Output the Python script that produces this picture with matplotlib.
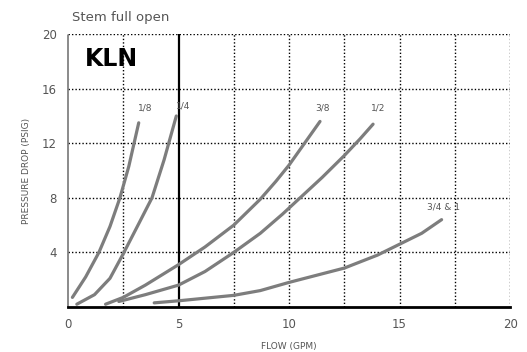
import matplotlib
matplotlib.use("Agg")
import matplotlib.pyplot as plt

# ---- data ----
x_18 = [0.2, 0.8, 1.4, 1.9, 2.35, 2.75, 3.2]
y_18 = [0.7, 2.2, 4.0, 5.9, 8.0, 10.3, 13.5]

x_14 = [0.4, 1.2, 1.9, 2.5, 3.2, 3.8, 4.35, 4.9]
y_14 = [0.2, 0.9, 2.1, 3.9, 6.1, 8.0, 10.8, 14.0]

x_38 = [1.7, 2.5, 3.5, 5.0, 6.2, 7.5, 8.7, 9.4, 10.0, 10.7, 11.4]
y_38 = [0.2, 0.7, 1.6, 3.1, 4.4, 6.0, 7.9, 9.2, 10.4, 12.0, 13.6]

x_12 = [2.3, 3.5, 5.0, 6.2, 7.5, 8.7, 9.7, 10.5, 11.5, 12.5, 13.2, 13.8]
y_12 = [0.4, 0.9, 1.6, 2.6, 4.0, 5.4, 6.8, 8.0, 9.5, 11.1, 12.3, 13.4]

x_34 = [3.9, 5.0, 7.5, 8.7, 10.0, 12.5, 14.0, 15.0, 16.0, 16.9]
y_34 = [0.3, 0.45, 0.85, 1.2, 1.8, 2.85, 3.8, 4.6, 5.4, 6.4]

series = [(x_18, y_18), (x_14, y_14), (x_38, y_38), (x_12, y_12), (x_34, y_34)]
labels = ["1/8", "1/4", "3/8", "1/2", "3/4 & 1"]
label_pos = [(3.5, 14.6), (5.2, 14.7), (11.5, 14.6), (14.05, 14.6), (17.0, 7.35)]

x_ticks = [0, 5, 10, 15, 20]
x_ticklabels = ["0", "5", "10", "15", "20"]
y_ticks = [0, 4, 8, 12, 16, 20]
y_ticklabels = ["", "4", "8", "12", "16", "20"]
x_grid = [2.5, 7.5, 10, 12.5, 15, 17.5, 20]
y_grid = [4, 8, 12, 16, 20]

fig = plt.figure(figsize=(5.27, 3.52), dpi=100)
ax = fig.add_axes([0.129, 0.128, 0.839, 0.775])
ax.set_xlim(0, 20)
ax.set_ylim(0, 20)

for gx in x_grid:
    ax.axvline(gx, color="black", linestyle=(0, (1, 1.5)), linewidth=1.0, zorder=1)
for gy in y_grid:
    ax.axhline(gy, color="black", linestyle=(0, (1, 1.5)), linewidth=1.0, zorder=1)
ax.axvline(5, color="black", linewidth=1.6, zorder=2)

for (xs, ys) in series:
    ax.plot(xs, ys, color="#7d7d7d", linewidth=2.3, solid_capstyle="round",
            solid_joinstyle="round", zorder=3)

for lab, (lx, ly) in zip(labels, label_pos):
    ax.text(lx, ly, lab, fontsize=6.5, color="#555555", ha="center", va="center")

ax.text(0.75, 18.2, "KLN", fontsize=17, fontweight="bold", ha="left", va="center")

for s in ["top", "right"]:
    ax.spines[s].set_visible(False)
ax.spines["left"].set_linestyle((0, (1, 1)))
ax.spines["left"].set_color("#777777")
ax.spines["left"].set_linewidth(1.2)
ax.spines["bottom"].set_linewidth(2.0)
ax.spines["bottom"].set_color("black")

ax.set_xticks(x_ticks)
ax.set_xticklabels(x_ticklabels)
ax.set_yticks(y_ticks)
ax.set_yticklabels(y_ticklabels)
ax.tick_params(axis="both", length=0, labelsize=8.5, labelcolor="#555555", pad=8)

ax.set_xlabel("FLOW (GPM)", fontsize=6.5, color="#555555", labelpad=8)
ax.set_ylabel("PRESSURE DROP (PSIG)", fontsize=6.5, color="#555555", labelpad=8)

fig.text(72 / 527, 1 - 17 / 352, "Stem full open", fontsize=9.5, color="#555555",
         ha="left", va="center")

fig.savefig("out.png", dpi=100)
